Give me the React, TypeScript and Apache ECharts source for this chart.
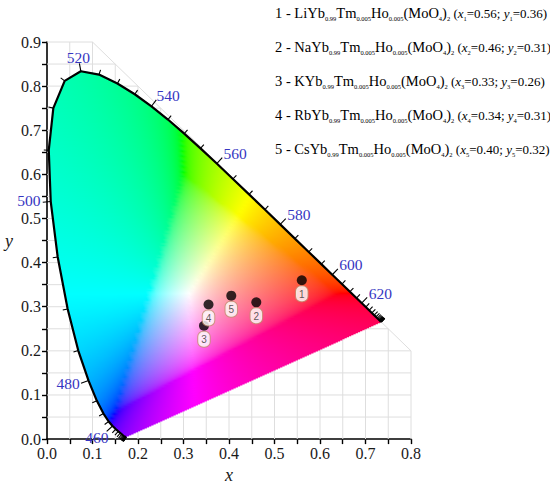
import React, { useEffect, useRef } from 'react';
import * as echarts from 'echarts';

// CIE 1931 2-degree spectral locus (chromaticity coordinates, 5 nm steps)
const locusNm = [380,385,390,395,400,405,410,415,420,425,430,435,440,445,450,455,460,465,470,475,480,485,490,495,500,505,510,515,520,525,530,535,540,545,550,555,560,565,570,575,580,585,590,595,600,605,610,615,620,625,630,635,640,645,650,655,660,665,670,675,680,685,690,695,700];
const locusX = [0.1741,0.1740,0.1738,0.1736,0.1733,0.1730,0.1726,0.1721,0.1714,0.1703,0.1689,0.1669,0.1644,0.1611,0.1566,0.1510,0.1440,0.1355,0.1241,0.1096,0.0913,0.0687,0.0454,0.0235,0.0082,0.0039,0.0139,0.0389,0.0743,0.1142,0.1547,0.1929,0.2296,0.2658,0.3016,0.3373,0.3731,0.4087,0.4441,0.4788,0.5125,0.5448,0.5752,0.6029,0.6270,0.6482,0.6658,0.6801,0.6915,0.7006,0.7079,0.7140,0.7190,0.7230,0.7260,0.7283,0.7300,0.7311,0.7320,0.7327,0.7334,0.7340,0.7344,0.7346,0.7347];
const locusY = [0.0050,0.0050,0.0049,0.0049,0.0048,0.0048,0.0048,0.0048,0.0051,0.0058,0.0069,0.0086,0.0109,0.0138,0.0177,0.0227,0.0297,0.0399,0.0578,0.0868,0.1327,0.2007,0.2950,0.4127,0.5384,0.6548,0.7502,0.8120,0.8338,0.8262,0.8059,0.7816,0.7543,0.7243,0.6923,0.6589,0.6245,0.5896,0.5547,0.5202,0.4866,0.4544,0.4242,0.3965,0.3725,0.3514,0.3340,0.3197,0.3083,0.2993,0.2920,0.2859,0.2809,0.2770,0.2740,0.2717,0.2700,0.2689,0.2680,0.2673,0.2666,0.2660,0.2656,0.2654,0.2653];
const labeledNm = [460, 480, 500, 520, 540, 560, 580, 600, 620];

// Samples (positions as plotted)
const sampleIds = ['1', '2', '3', '4', '5'];
const sampleX = [0.56, 0.46, 0.345, 0.355, 0.405];
const sampleY = [0.36, 0.31, 0.257, 0.305, 0.325];

// Legend text
const legendHosts = ['Li', 'Na', 'K', 'Rb', 'Cs'];
const legendX = ['0.56', '0.46', '0.33', '0.34', '0.40'];
const legendY = ['0.36', '0.31', '0.26', '0.31', '0.32'];

const X_MIN = 0, X_MAX = 0.8, Y_MIN = 0, Y_MAX = 0.9, STEP = 0.1, GRID_STEP = 0.05;
const GRID = { left: 47, right: 139, top: 42, bottom: 41 };
const CHART_W = 550, CHART_H = 489;

const SERIF = 'Liberation Serif';

function xyToRgb(x: number, y: number): string {
  const yy = Math.max(y, 0.0005);
  const X = x / yy, Y = 1, Z = (1 - x - yy) / yy;
  let r = 3.2406 * X - 1.5372 * Y - 0.4986 * Z;
  let g = -0.9689 * X + 1.8758 * Y + 0.0415 * Z;
  let b = 0.0557 * X - 0.2040 * Y + 1.0570 * Z;
  const mn = Math.min(r, g, b, 0);
  r -= mn; g -= mn; b -= mn;
  const mx = Math.max(r, g, b) || 1;
  const gam = (c: number) => (c <= 0.0031308 ? 12.92 * c : 1.055 * Math.pow(c, 1 / 2.4) - 0.055);
  const to = (c: number) => Math.round(255 * Math.min(1, Math.max(0, gam(c / mx))));
  return `rgb(${to(r)},${to(g)},${to(b)})`;
}

// x positions where the closed locus polygon crosses the horizontal line at y
function crossings(y: number): number[] {
  const n = locusX.length;
  const xs: number[] = [];
  for (let i = 0; i < n; i++) {
    const j = (i + 1) % n;
    const y1 = locusY[i], y2 = locusY[j];
    if ((y1 <= y && y2 > y) || (y2 <= y && y1 > y)) {
      xs.push(locusX[i] + ((y - y1) / (y2 - y1)) * (locusX[j] - locusX[i]));
    }
  }
  return xs.sort((a, b) => a - b);
}

export default function App() {
  const ref = useRef<HTMLDivElement>(null);
  useEffect(() => {
    if (!ref.current) return;
    const chart = echarts.init(ref.current, null, { renderer: 'svg' });
    const last = locusX.length - 1;

    const locusData = locusX.map((x, i) => [x, locusY[i], locusNm[i]]);

    const legendText = legendHosts.map((h, i) =>
      `{n|${i + 1} - ${h}Yb}{s|0.99}{n|Tm}{s|0.005}{n|Ho}{s|0.005}{n|(MoO}{s|4}{n|)}{s|2}{t| (}{ti|x}{s|${i + 1}}{t|=${legendX[i]}; }{ti|y}{s|${i + 1}}{t|=${legendY[i]})}`
    );

    const axisCommon = {
      type: 'value',
      interval: STEP,
      axisLine: { show: true, onZero: false, lineStyle: { color: '#000', width: 1.6 } },
      axisTick: { show: true, length: 5, lineStyle: { color: '#000', width: 1.4 } },
      minorTick: { show: true, splitNumber: 2, length: 5, lineStyle: { color: '#000', width: 1.4 } },
      splitLine: { show: false },
      axisLabel: { fontSize: 16, fontFamily: SERIF, color: '#1a1a1a', margin: 6, formatter: (v: number) => v.toFixed(1) },
      nameTextStyle: { fontSize: 18, fontFamily: SERIF, fontStyle: 'italic', color: '#1a1a1a' },
    };

    chart.setOption({
      animation: false,
      backgroundColor: '#fff',
      grid: GRID,
      xAxis: { ...axisCommon, min: X_MIN, max: X_MAX, name: 'x', nameLocation: 'middle', nameGap: 26 },
      yAxis: { ...axisCommon, min: Y_MIN, max: Y_MAX, name: 'y', nameLocation: 'middle', nameGap: 34, nameRotate: 0 },
      graphic: legendText.map((t, i) => ({
        type: 'text',
        x: 275,
        y: 13 + 34 * i,
        style: {
          text: t,
          align: 'left',
          verticalAlign: 'middle',
          rich: {
            n: { fontSize: 14.5, fontFamily: SERIF, color: '#111', lineHeight: 18, verticalAlign: 'middle' },
            t: { fontSize: 13, fontFamily: SERIF, color: '#111', lineHeight: 18, verticalAlign: 'middle' },
            ti: { fontSize: 13, fontFamily: SERIF, fontStyle: 'italic', color: '#111', lineHeight: 18, verticalAlign: 'middle' },
            s: { fontSize: 6.5, fontFamily: SERIF, color: '#111', lineHeight: 7, verticalAlign: 'bottom' },
          },
        },
      })),
      series: [
        {
          type: 'custom',
          silent: true,
          z: 1,
          data: [[0, 0]],
          renderItem: (params: any, api: any) => {
            const children: any[] = [];
            const style = { stroke: '#dedede', lineWidth: 1 };
            for (let k = 1; k * GRID_STEP <= X_MAX + 1e-9; k++) {
              const x = k * GRID_STEP;
              const a = api.coord([x, 0]);
              const b = api.coord([x, Math.min(Y_MAX, 1 - x)]);
              children.push({ type: 'line', shape: { x1: a[0], y1: a[1], x2: b[0], y2: b[1] }, style });
            }
            for (let k = 1; k * GRID_STEP <= Y_MAX + 1e-9; k++) {
              const y = k * GRID_STEP;
              const a = api.coord([0, y]);
              const b = api.coord([Math.min(X_MAX, 1 - y), y]);
              children.push({ type: 'line', shape: { x1: a[0], y1: a[1], x2: b[0], y2: b[1] }, style });
            }
            const c = api.coord([1 - Y_MAX, Y_MAX]);
            const d = api.coord([X_MAX, 1 - X_MAX]);
            children.push({ type: 'line', shape: { x1: c[0], y1: c[1], x2: d[0], y2: d[1] }, style });
            return { type: 'group', children };
          },
        },
        {
          // colour fill of the spectral locus, drawn as 1-px horizontal strips with colour gradients
          type: 'custom',
          silent: true,
          z: 2,
          data: [[X_MIN, Y_MIN]],
          renderItem: (params: any, api: any) => {
            const bottom = api.coord([X_MIN, Y_MIN])[1];
            const top = api.coord([X_MIN, Y_MAX])[1];
            const rows = Math.round(bottom - top);
            const dy = (Y_MAX - Y_MIN) / rows;
            const rowH = (bottom - top) / rows;
            const children: any[] = [];
            for (let k = 0; k < rows; k++) {
              const yc = Y_MAX - (k + 0.5) * dy;
              const xs = crossings(yc);
              if (xs.length < 2) continue;
              const rowTop = top + k * rowH;
              for (let q = 0; q + 1 < xs.length; q += 2) {
                const xa = xs[q], xb = xs[q + 1];
                const pa = api.coord([xa, yc]);
                const pb = api.coord([xb, yc]);
                const m = Math.max(1, Math.ceil((xb - xa) / 0.012));
                const stops: any[] = [];
                for (let s = 0; s <= m; s++) {
                  stops.push({ offset: s / m, color: xyToRgb(xa + ((xb - xa) * s) / m, yc) });
                }
                const grad = new echarts.graphic.LinearGradient(pa[0], 0, Math.max(pb[0], pa[0] + 0.01), 0, stops, true);
                children.push({
                  type: 'rect',
                  shape: { x: pa[0], y: rowTop - 0.3, width: Math.max(0.5, pb[0] - pa[0]), height: rowH + 0.6 },
                  style: { fill: grad },
                });
              }
            }
            return { type: 'group', children };
          },
        },
        {
          type: 'line',
          silent: true,
          z: 4,
          data: locusData.map((d) => [d[0], d[1]]),
          showSymbol: false,
          symbol: 'none',
          lineStyle: { color: '#000', width: 2.2 },
        },
        {
          type: 'custom',
          silent: true,
          z: 4,
          data: locusData,
          renderItem: (params: any, api: any) => {
            const i = params.dataIndex;
            const nm = api.value(2);
            const p = api.coord([locusX[i], locusY[i]]);
            let j0 = i, j1 = i;
            let a = p, b = p;
            let guard = 0;
            while (Math.hypot(b[0] - a[0], b[1] - a[1]) < 6 && guard < 20) {
              if (j0 > 0) j0--;
              if (j1 < last) j1++;
              a = api.coord([locusX[j0], locusY[j0]]);
              b = api.coord([locusX[j1], locusY[j1]]);
              guard++;
            }
            const tx = b[0] - a[0], ty = b[1] - a[1];
            const len = Math.hypot(tx, ty) || 1;
            const nx = ty / len, ny = -tx / len;
            const major = labeledNm.indexOf(nm) >= 0;
            const L = major ? 8 : 5;
            const children: any[] = [
              { type: 'line', shape: { x1: p[0], y1: p[1], x2: p[0] + nx * L, y2: p[1] + ny * L }, style: { stroke: '#000', lineWidth: 1.1 } },
            ];
            if (major) {
              children.push({
                type: 'text',
                x: p[0] + nx * 8 + nx * 16 + 2,
                y: p[1] + ny * 8 + ny * 7 + (nx < -0.9 ? -2 : 1),
                style: { text: String(nm), align: 'center', verticalAlign: 'middle', fill: '#3636c2', fontSize: 15.5, fontFamily: SERIF },
              });
            }
            return { type: 'group', children };
          },
        },
        {
          type: 'scatter',
          z: 6,
          symbolSize: 10,
          itemStyle: { color: '#000' },
          data: sampleIds.map((id, i) => ({ name: id, value: [sampleX[i], sampleY[i]] })),
          label: {
            show: true,
            position: 'bottom',
            distance: 1,
            formatter: (p: any) => p.name,
            backgroundColor: '#fff',
            borderColor: '#c49070',
            borderWidth: 1,
            borderRadius: 5,
            padding: [2, 3, 1, 3],
            fontSize: 10,
            lineHeight: 12,
            color: '#333',
            fontFamily: 'Liberation Sans',
          },
        },
      ],
    });
    return () => chart.dispose();
  }, []);
  return <div ref={ref} style={{ position: 'absolute', left: 0, top: 0, width: CHART_W, height: CHART_H }} />;
}
